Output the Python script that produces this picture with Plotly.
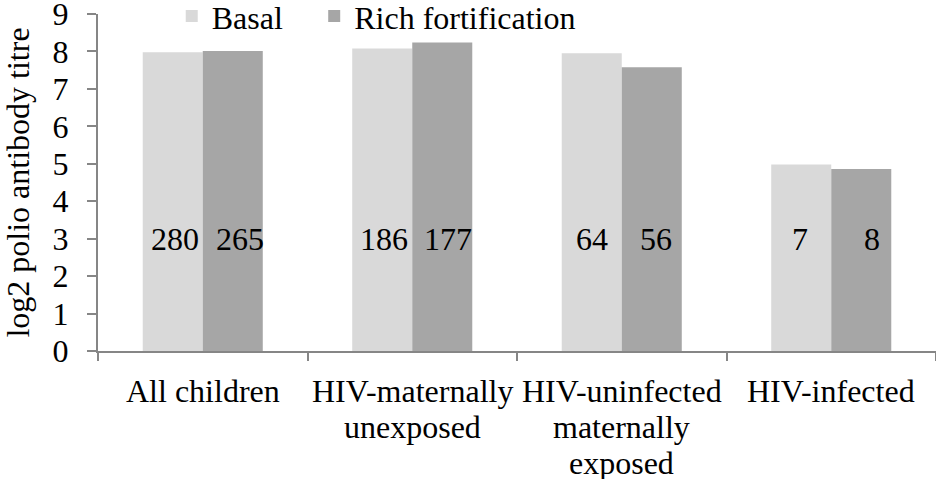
import plotly.graph_objects as go

categories = ["All children", "HIV-maternally unexposed",
              "HIV-uninfected maternally exposed", "HIV-infected"]
category_lines = [["All children"],
                  ["HIV-maternally", "unexposed"],
                  ["HIV-uninfected", "maternally", "exposed"],
                  ["HIV-infected"]]
basal = [7.98, 8.08, 7.95, 4.98]
rich = [8.01, 8.24, 7.58, 4.86]
n_basal = ["280", "186", "64", "7"]
n_rich = ["265", "177", "56", "8"]
label_y = 3
# small per-label horizontal nudges seen in the reference (px)
nudge_basal = [2, 2, 0, -1]
nudge_rich = [7, 6, 4, 11]

FONT = "Liberation Serif"
AXIS = "#868686"
FS = 32

fig = go.Figure()
fig.add_trace(go.Bar(name="Basal", x=categories, y=basal, legend="legend",
                     marker=dict(color="#d9d9d9", line=dict(width=0))))
fig.add_trace(go.Bar(name="Rich fortification", x=categories, y=rich, legend="legend2",
                     marker=dict(color="#a6a6a6", line=dict(width=0))))

annotations = []
for i, c in enumerate(categories):
    annotations.append(dict(x=c, y=label_y, xref="x", yref="y", text=n_basal[i],
                            showarrow=False, xshift=-30 + nudge_basal[i],
                            font=dict(family=FONT, size=FS, color="black")))
    annotations.append(dict(x=c, y=label_y, xref="x", yref="y", text=n_rich[i],
                            showarrow=False, xshift=30 + nudge_rich[i],
                            font=dict(family=FONT, size=FS, color="black")))
    # category label, one line at a time (Excel-like line spacing)
    for k, line in enumerate(category_lines[i]):
        annotations.append(dict(x=c, y=0, xref="x", yref="y", text=line,
                                showarrow=False, yanchor="middle", xanchor="center",
                                yshift=-40 - 36 * k,
                                font=dict(family=FONT, size=FS, color="black")))

legend_common = dict(orientation="h", xanchor="left", yref="container",
                     y=0.966, yanchor="middle",
                     font=dict(family=FONT, size=FS, color="black"),
                     bgcolor="rgba(0,0,0,0)")

fig.update_layout(
    width=936, height=479,
    margin=dict(l=98, r=0, t=14, b=128, autoexpand=False),
    paper_bgcolor="white", plot_bgcolor="white",
    barmode="group", bargap=0.427, bargroupgap=0,
    font=dict(family=FONT, size=FS, color="black"),
    showlegend=True,
    legend=dict(x=0.088, **legend_common),
    legend2=dict(x=0.258, **legend_common),
    annotations=annotations,
    xaxis=dict(showline=True, linecolor=AXIS, linewidth=2,
               ticks="outside", tickson="boundaries", ticklen=8, tickcolor=AXIS,
               tickwidth=2, showgrid=False, showticklabels=False),
    yaxis=dict(range=[0, 9], dtick=1, showline=True, linecolor=AXIS, linewidth=2,
               ticks="outside", ticklen=9, tickcolor=AXIS, tickwidth=2,
               showgrid=False, zeroline=False, ticklabelstandoff=12,
               ticklabeloverflow="allow",
               tickfont=dict(family=FONT, size=FS, color="black"),
               title=dict(text="log2 polio antibody titre", standoff=14,
                          font=dict(family=FONT, size=FS, color="black"))),
)

fig.write_html("out.html", config={"displayModeBar": False},
               post_script="document.body.style.margin='0';")
